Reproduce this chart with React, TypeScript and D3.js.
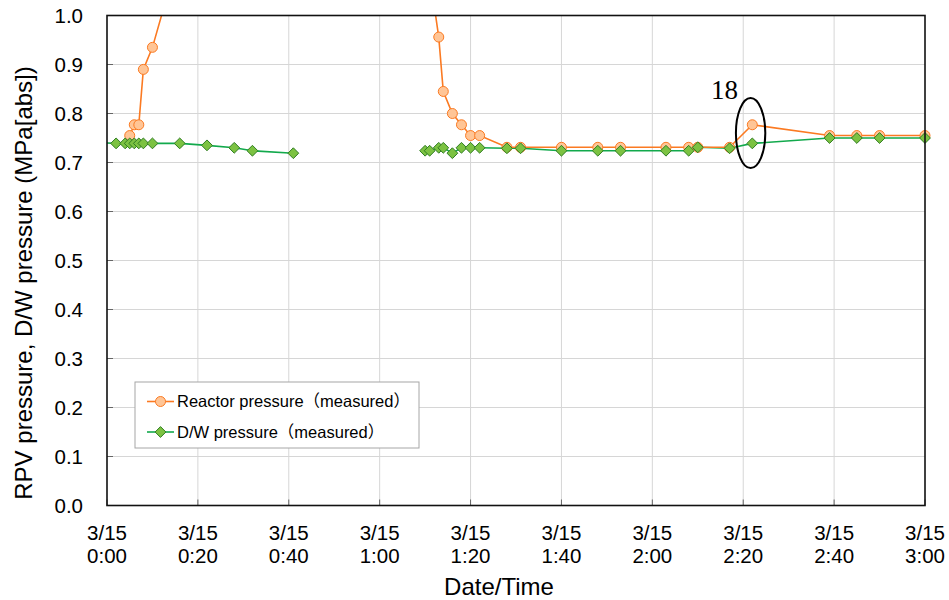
import React from "react";
import * as d3 from "d3";

// ---- data (minutes after 3/15 0:00, pressure in MPa[abs]) ----
const reactorTimes = [5, 6, 7, 8, 10, 16, 72, 73, 74, 76, 78, 80, 82, 88, 91, 100, 108, 113, 123, 128, 130, 137, 142, 159, 165, 170, 180];
const reactorValues = [0.755, 0.777, 0.777, 0.89, 0.935, 1.13, 1.02, 0.956, 0.845, 0.8, 0.777, 0.755, 0.755, 0.731, 0.731, 0.731, 0.731, 0.731, 0.731, 0.731, 0.731, 0.731, 0.777, 0.755, 0.755, 0.755, 0.755];

const dwTimes = [-3, 2, 4, 5, 6, 7, 8, 10, 16, 22, 28, 32, 41, 55, 70, 71, 73, 74, 76, 78, 80, 82, 88, 91, 100, 108, 113, 123, 128, 130, 137, 142, 159, 165, 170, 180];
const dwValues: (number | null)[] = [0.741, 0.739, 0.739, 0.739, 0.739, 0.739, 0.739, 0.739, 0.739, 0.735, 0.73, 0.724, 0.719, null, 0.724, 0.724, 0.73, 0.73, 0.719, 0.73, 0.73, 0.73, 0.729, 0.729, 0.724, 0.724, 0.724, 0.724, 0.724, 0.731, 0.729, 0.739, 0.75, 0.75, 0.75, 0.75];

const xTickMinutes = [0, 20, 40, 60, 80, 100, 120, 140, 160, 180];
const xTickDate = "3/15";
const xTickTimes = ["0:00", "0:20", "0:40", "1:00", "1:20", "1:40", "2:00", "2:20", "2:40", "3:00"];
const yTicks = [0, 0.1, 0.2, 0.3, 0.4, 0.5, 0.6, 0.7, 0.8, 0.9, 1.0];

const seriesNames = ["Reactor pressure（measured）", "D/W pressure（measured）"];
const annotationLabel = "18";
const annotationTime = 142;
const annotationValue = 0.76;

const W = 949;
const H = 600;
const L = 107, R = 925, T = 15.5, B = 505.5;

const FONT = "'Liberation Sans', Arial, 'Noto Sans CJK JP', sans-serif";
const ORANGE = "#fb7a22";
const ORANGE_FILL = "#ffc596";
const GREEN = "#12a94c";
const GREEN_FILL = "#7cc242";
const GREEN_STROKE = "#2f7d22";

function diamond(cx: number, cy: number, r: number) {
  return `M${cx},${cy - r}L${cx + r},${cy}L${cx},${cy + r}L${cx - r},${cy}Z`;
}

export default function App() {
  const x = d3.scaleLinear().domain([0, 180]).range([L, R]);
  const y = d3.scaleLinear().domain([0, 1]).range([B, T]);

  const reactor = reactorTimes.map((t, i) => ({ t, v: reactorValues[i] as number | null }));
  const dw = dwTimes.map((t, i) => ({ t, v: dwValues[i] }));

  const line = d3
    .line<{ t: number; v: number | null }>()
    .defined((d) => d.v !== null)
    .x((d) => x(d.t))
    .y((d) => y(d.v as number));

  const visible = (d: { t: number; v: number | null }) =>
    d.v !== null && d.t >= 0 && d.t <= 180 && (d.v as number) <= 1.0;

  return (
    <svg width={W} height={H} style={{ position: "absolute", left: 0, top: 0, background: "#fff" }}>
      <defs>
        <clipPath id="plot">
          <rect x={L} y={T} width={R - L} height={B - T} />
        </clipPath>
      </defs>
      <rect x={0} y={0} width={W} height={H} fill="#fff" />
      {/* grid */}
      {yTicks.slice(1, -1).map((v) => (
        <line key={"gy" + v} x1={L} x2={R} y1={y(v)} y2={y(v)} stroke="#d6d6d6" strokeWidth={1} />
      ))}
      {xTickMinutes.slice(1, -1).map((m) => (
        <line key={"gx" + m} x1={x(m)} x2={x(m)} y1={T} y2={B} stroke="#d6d6d6" strokeWidth={1} />
      ))}
      {/* inner ticks */}
      {yTicks.map((v) => (
        <line key={"ty" + v} x1={L} x2={L + 6} y1={y(v)} y2={y(v)} stroke="#666" strokeWidth={1} />
      ))}
      {xTickMinutes.map((m) => (
        <line key={"tx" + m} x1={x(m)} x2={x(m)} y1={B} y2={B - 6} stroke="#666" strokeWidth={1} />
      ))}
      {/* series lines */}
      <g clipPath="url(#plot)">
        <path d={line(dw) || ""} fill="none" stroke={GREEN} strokeWidth={1.6} />
        <path d={line(reactor) || ""} fill="none" stroke={ORANGE} strokeWidth={1.6} />
      </g>
      {/* markers */}
      {reactor.filter(visible).map((d, i) => (
        <circle key={"rc" + i} cx={x(d.t)} cy={y(d.v as number)} r={5} fill={ORANGE_FILL} stroke={ORANGE} strokeWidth={1} />
      ))}
      {dw.filter(visible).map((d, i) => (
        <path key={"dm" + i} d={diamond(x(d.t), y(d.v as number), 5.4)} fill={GREEN_FILL} stroke={GREEN_STROKE} strokeWidth={1} />
      ))}
      {/* frame */}
      <rect x={L} y={T} width={R - L} height={B - T} fill="none" stroke="#111" strokeWidth={1.6} />
      {/* y tick labels */}
      {yTicks.map((v) => (
        <text key={"ly" + v} x={83} y={y(v)} dy="0.36em" textAnchor="end" fontFamily={FONT} fontSize={20.5} fill="#000">
          {v.toFixed(1)}
        </text>
      ))}
      {/* x tick labels */}
      {xTickMinutes.map((m, i) => (
        <text key={"lx" + m} x={x(m)} textAnchor="middle" fontFamily={FONT} fontSize={20.5} fill="#000">
          <tspan x={x(m)} y={540}>{xTickDate}</tspan>
          <tspan x={x(m)} y={563}>{xTickTimes[i]}</tspan>
        </text>
      ))}
      {/* axis titles */}
      <text x={(L + R) / 2 - 17} y={595} textAnchor="middle" fontFamily={FONT} fontSize={24} fill="#000">
        Date/Time
      </text>
      <text
        transform={`translate(32,${283}) rotate(-90)`}
        textAnchor="middle"
        fontFamily={FONT}
        fontSize={24}
        fill="#000"
      >
        RPV pressure, D/W pressure (MPa[abs])
      </text>
      {/* annotation */}
      <ellipse cx={x(annotationTime) - 1.7} cy={y(annotationValue)} rx={14.7} ry={35} fill="none" stroke="#000" strokeWidth={2} />
      <text x={711} y={99} fontFamily="'Liberation Serif', 'Times New Roman', serif" fontSize={27} fill="#000">
        {annotationLabel}
      </text>
      {/* legend */}
      <rect x={135} y={382} width={284} height={66} fill="#fff" stroke="#a6a6a6" strokeWidth={1} />
      <line x1={147} x2={174} y1={401.5} y2={401.5} stroke={ORANGE} strokeWidth={1.6} />
      <circle cx={160.5} cy={401.5} r={5} fill={ORANGE_FILL} stroke={ORANGE} strokeWidth={1} />
      <text x={177} y={401.5} dy="0.36em" fontFamily={FONT} fontSize={16.5} fill="#000">
        {seriesNames[0]}
      </text>
      <line x1={147} x2={174} y1={432} y2={432} stroke={GREEN} strokeWidth={1.6} />
      <path d={diamond(160.5, 432, 5.4)} fill={GREEN_FILL} stroke={GREEN_STROKE} strokeWidth={1} />
      <text x={177} y={432} dy="0.36em" fontFamily={FONT} fontSize={16.5} fill="#000">
        {seriesNames[1]}
      </text>
    </svg>
  );
}
